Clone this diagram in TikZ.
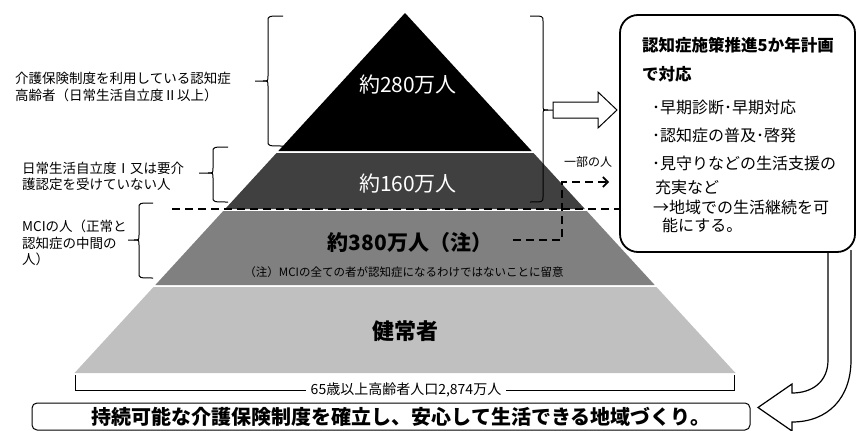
\documentclass[tikz,border=0pt]{standalone}
\usepackage{fontspec}
\setmainfont{Noto Sans CJK JP}
\usetikzlibrary{arrows.meta,calc}
\definecolor{layA}{HTML}{000000}
\definecolor{layB}{HTML}{404040}
\definecolor{layC}{HTML}{808080}
\definecolor{layD}{HTML}{C0C0C0}
\newcommand{\mybraceL}[6]{% xv xr xt yt ym yb
  \draw[brc] (#2,#4) .. controls (#1,#4) .. (#1,#4+5) -- (#1,#5-5) .. controls (#1,#5) .. (#1-5,#5) -- (#3,#5);
  \draw[brc] (#2,#6) .. controls (#1,#6) .. (#1,#6-5) -- (#1,#5+5) .. controls (#1,#5) .. (#1-5,#5);}
\newcommand{\mybraceR}[6]{% xv xl xt yt ym yb
  \draw[brc] (#2,#4) .. controls (#1,#4) .. (#1,#4+5) -- (#1,#5-5) .. controls (#1,#5) .. (#1+5,#5) -- (#3,#5);
  \draw[brc] (#2,#6) .. controls (#1,#6) .. (#1,#6-5) -- (#1,#5+5) .. controls (#1,#5) .. (#1+5,#5);}
\begin{document}
\begin{tikzpicture}[x=1pt,y=-1pt,
  brc/.style={line width=1pt},
  sidelbl/.style={inner sep=0pt, anchor=west, font=\fontsize{13.5}{15}\selectfont},
  boxline/.style={inner sep=0pt, anchor=west},
  boxitem/.style={inner sep=0pt, anchor=west, font=\fontsize{16}{16}\selectfont},
  bigwhite/.style={text=white, inner sep=0pt, font=\fontsize{21}{21}\selectfont},
  dsh/.style={line width=2pt, dash pattern=on 8pt off 5pt},
  blockarrow/.style={line width=1pt, fill=white, line join=miter}]
\useasboundingbox (0,0) rectangle (857,431);

% pyramid layers
\fill[layA] (405,13) -- (531.7,151) -- (278.3,151) -- cycle;
\fill[layB] (276.5,153) -- (533.5,153) -- (584.9,209) -- (225.1,209) -- cycle;
\fill[layC] (223.2,211) -- (586.8,211) -- (654.7,285) -- (155.3,285) -- cycle;
\fill[layD] (153.5,287) -- (656.5,287) -- (735.5,373) -- (74.5,373) -- cycle;

% pyramid labels
\node[bigwhite] (n280) at (408,85) {約280万人};
\node[bigwhite] (n160) at (408,184) {約160万人};
\node[inner sep=0pt, font=\bfseries\fontsize{21}{21}\selectfont] (n380) at (410,243) {約380万人（注）};
\node[inner sep=0pt, font=\fontsize{11.5}{12}\selectfont] (note) at (404,272) {（注）MCIの全ての者が認知症になるわけではないことに留意};
\node[inner sep=0pt, font=\bfseries\fontsize{22}{22}\selectfont] (healthy) at (405,331) {健常者};

% left braces and labels
\mybraceL{268}{283}{255}{16}{81}{146}
\mybraceL{213}{228}{199}{147}{173}{202}
\mybraceL{139}{153}{128}{203}{240}{278}
\node[sidelbl] (l1a) at (15,78) {介護保険制度を利用している認知症};
\node[sidelbl] (l1b) at (15,95) {高齢者（日常生活自立度Ⅱ以上）};
\node[sidelbl] (l2a) at (22,168) {日常生活自立度Ⅰ又は要介};
\node[sidelbl] (l2b) at (22,184) {護認定を受けていない人};
\node[sidelbl] (l3a) at (22,226) {MCIの人（正常と};
\node[sidelbl] (l3b) at (22,243) {認知症の中間の};
\node[sidelbl] (l3c) at (22,259) {人）};

% right brace and block arrow
\mybraceR{543}{530}{553}{16}{110}{202}
\draw[blockarrow] (553,102) -- (598,102) -- (598,92) -- (617,110) -- (598,128) -- (598,118) -- (553,118) -- cycle;

% dashed lines
\coordinate (dl) at (172,209);
\coordinate (dr) at (619,209);
\draw[dsh] (dl) -- (dr);
\coordinate (p1) at (513,240);
\coordinate (p2) at (562,240);
\coordinate (p3) at (562,182);
\coordinate (p4) at (609,182);
\draw[dsh, -{Straight Barb[length=5pt,width=10pt,line width=1.6pt]}] (p1) -- (p2) -- (p3) -- (p4);
\node[inner sep=0pt, font=\fontsize{12}{12}\selectfont] (part) at (588,162) {一部の人};

% curved arrow (drawn before the box)
\draw[blockarrow, line width=1.2pt] (828,250) -- (828,360) .. controls (828,382) and (812,393) .. (792,393) -- (792,384) -- (758,407.5) -- (792,431) -- (792,422) .. controls (828,422) and (851,398) .. (851,360) -- (851,250);

% right box
\draw[line width=1.8pt, rounded corners=18pt, fill=white] (620,15) rectangle (855,252);
\node[boxline, font=\bfseries\fontsize{16.5}{17}\selectfont] (t1) at (642,45) {認知症施策推進5か年計画};
\node[boxline, font=\bfseries\fontsize{16.5}{17}\selectfont] (t2) at (642,74) {で対応};
\node[boxitem] (t3) at (652,107) {･早期診断･早期対応};
\node[boxitem] (t4) at (652,135) {･認知症の普及･啓発};
\node[boxitem] (t5) at (652,163) {･見守りなどの生活支援の};
\node[boxitem] (t6) at (655,187) {充実など};
\node[boxitem] (t7) at (653,207) {→地域での生活継続を可};
\node[boxitem] (t8) at (662,225) {能にする。};

% bottom bracket
\node[inner sep=5pt, font=\fontsize{14}{14}\selectfont] (total) at (406,390) {65歳以上高齢者人口2,874万人};
\coordinate (bl) at (75,375);
\coordinate (br) at (734,375);
\draw[line width=1pt] (bl) -- (bl |- total.west) -- (total.west);
\draw[line width=1pt] (br) -- (br |- total.east) -- (total.east);

% bottom box
\draw[line width=1pt, rounded corners=5pt] (32,403) rectangle (750,430);
\node[inner sep=0pt, font=\bfseries\fontsize{20}{20}\selectfont] (goal) at (401,417) {持続可能な介護保険制度を確立し、安心して生活できる地域づくり。};
\end{tikzpicture}
\end{document}
